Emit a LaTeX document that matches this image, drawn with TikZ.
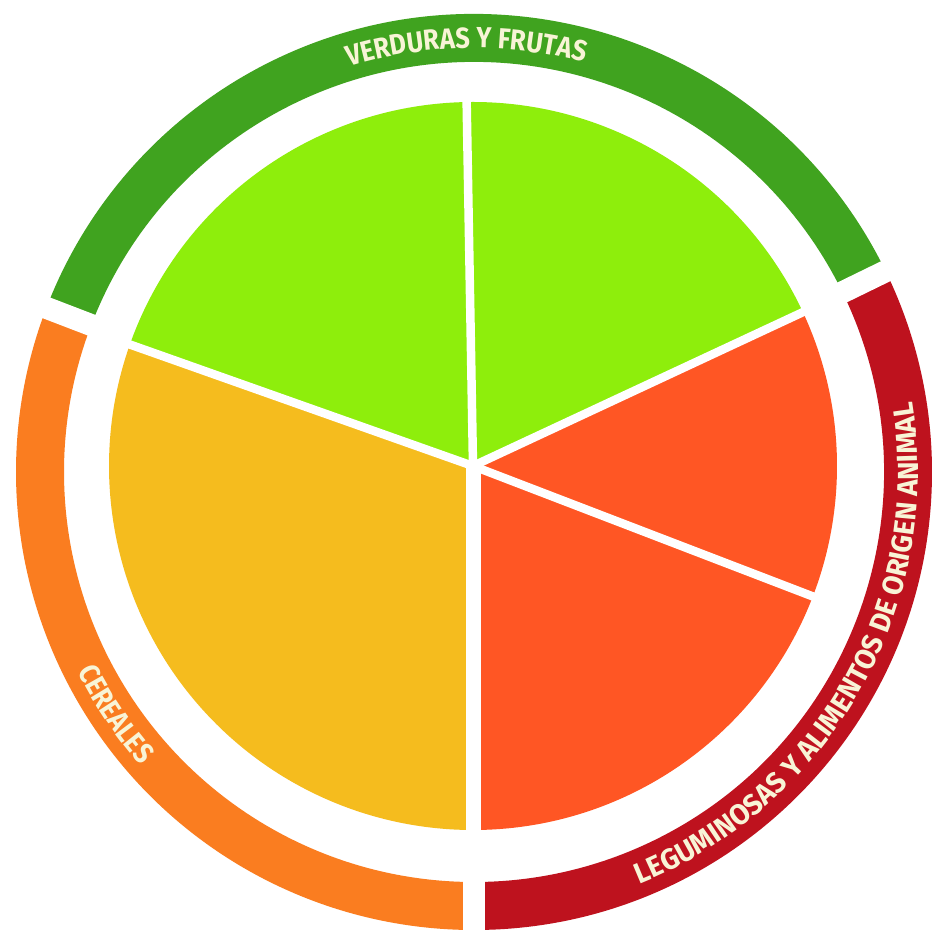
\documentclass[tikz,border=0pt]{standalone}
\usepackage{fontspec}
\newfontfamily\ringfont[FakeStretch=0.88]{Fira Sans}
\newfontfamily\ringwidefont[FakeStretch=0.96]{Fira Sans}
\usetikzlibrary{decorations.text}

\definecolor{ringgreen}{RGB}{64,163,31}
\definecolor{ringorange}{RGB}{250,125,32}
\definecolor{ringred}{RGB}{190,18,30}
\definecolor{lightgreen}{RGB}{142,238,12}
\definecolor{grainyellow}{RGB}{245,188,30}
\definecolor{redorange}{RGB}{255,86,36}
\definecolor{labelcream}{RGB}{248,244,214}

\begin{document}
\begin{tikzpicture}[x=0.02cm, y=0.02cm]
        \tikzstyle{gap}=[draw=white, line width=0.17cm]
        \tikzstyle{ringgap}=[draw=white, line width=0.44cm]
        \tikzstyle{ringlabel}=[decorate, decoration={text along path, text align=center, text color=labelcream}]
        \fill[white] (-474,-464) rectangle (457,472);
        \useasboundingbox (-474,-464) rectangle (457,472);
        \coordinate (hub) at (-1,6);
        % outer ring
        \fill[ringgreen] (26:458) arc[start angle=26, end angle=159, radius=458] -- (159:410) arc[start angle=159, end angle=26, radius=410] -- cycle;
        \fill[ringorange] (159:458) arc[start angle=159, end angle=270, radius=458] -- (270:410) arc[start angle=270, end angle=159, radius=410] -- cycle;
        \fill[ringred] (270:458) arc[start angle=270, end angle=386, radius=458] -- (386:410) arc[start angle=386, end angle=270, radius=410] -- cycle;
        \draw[ringgap] (159:400) -- (159:470);
        \draw[ringgap] (26:400) -- (26:470);
        \draw[ringgap] (270:400) -- (270:470);
        % plate
        \fill[lightgreen] (hub) -- ++(91:364) arc[start angle=91, end angle=160.5, radius=364] -- cycle;
        \fill[grainyellow] (hub) -- ++(160.5:364) arc[start angle=160.5, end angle=270, radius=364] -- cycle;
        \fill[redorange] (hub) -- ++(270:364) arc[start angle=270, end angle=339, radius=364] -- cycle;
        \fill[redorange] (hub) -- ++(339:364) arc[start angle=339, end angle=385, radius=364] -- cycle;
        \fill[lightgreen] (hub) -- ++(25:364) arc[start angle=25, end angle=91, radius=364] -- cycle;
        \foreach \a in {91,160.5,339,25} \draw[gap] (hub) -- ++(\a:380);
        \draw[gap, line width=0.30cm] (hub) -- ++(270:380);
        % labels
        \path[ringlabel, decoration={text={|\ringfont\bfseries\fontsize{16.5}{18}\selectfont|VERDURAS Y FRUTAS}}] (131:424) arc[start angle=131, end angle=51, radius=424];
        \path[ringlabel, decoration={text={|\ringfont\bfseries\fontsize{16.5}{18}\selectfont|CEREALES}}] (184:444) arc[start angle=184, end angle=244, radius=444];
        \path[ringlabel, decoration={text={|\ringwidefont\bfseries\fontsize{16.5}{18}\selectfont|LEGUMINOSAS Y ALIMENTOS DE ORIGEN ANIMAL}}] (-80:444) arc[start angle=-80, end angle=21, radius=444];
    \end{tikzpicture}
\end{document}
